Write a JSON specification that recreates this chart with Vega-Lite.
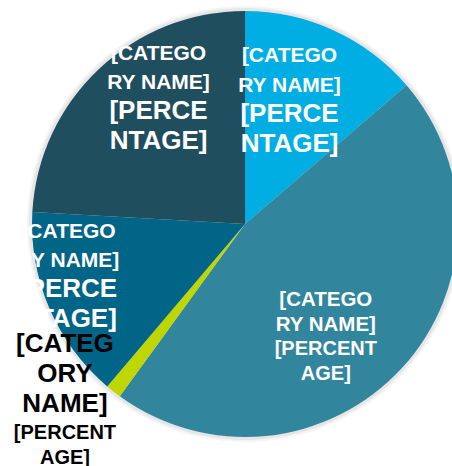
{
  "$schema": "https://vega.github.io/schema/vega-lite/v6.json",
  "width": 414,
  "height": 426,
  "autosize": {"type": "none"},
  "padding": {"left": 38, "top": 11, "right": 0, "bottom": 29},
  "background": "white",
  "config": {"view": {"stroke": null}},
  "data": {
    "values": [
      {"cat": "Category 1", "value": 13.7, "catLabel": "[CATEGO\nRY NAME]", "pctLabel": "[PERCE\nNTAGE]"},
      {"cat": "Category 2", "value": 46.3, "catLabel": "[CATEGO\nRY NAME]", "pctLabel": "[PERCENT\nAGE]"},
      {"cat": "Category 3", "value": 1.2, "catLabel": "[CATEG\nORY\nNAME]", "pctLabel": "[PERCENT\nAGE]"},
      {"cat": "Category 4", "value": 14.7, "catLabel": "[CATEGO\nRY NAME]", "pctLabel": "[PERCE\nNTAGE]"},
      {"cat": "Category 5", "value": 24.1, "catLabel": "[CATEGO\nRY NAME]", "pctLabel": "[PERCE\nNTAGE]"}
    ]
  },
  "layer": [
    {
      "mark": {"type": "arc", "radius": 218, "fill": "#000000", "opacity": 0.04},
      "encoding": {"theta": {"aggregate": "sum", "field": "value", "type": "quantitative"}}
    },
    {
      "mark": {"type": "arc", "radius": 216, "fill": "#000000", "opacity": 0.06},
      "encoding": {"theta": {"aggregate": "sum", "field": "value", "type": "quantitative"}}
    },
    {
      "mark": {"type": "arc", "radius": 213, "stroke": null},
      "encoding": {
        "theta": {"field": "value", "type": "quantitative", "stack": true},
        "order": {"field": "cat", "sort": "ascending"},
        "color": {
          "field": "cat", "type": "nominal", "legend": null,
          "scale": {
            "domain": ["Category 1", "Category 2", "Category 3", "Category 4", "Category 5"],
            "range": ["#00AEE4", "#31859C", "#BFD600", "#006586", "#1F4E5E"]
          }
        }
      }
    },
    {
      "mark": {"type": "text", "radius": 106.7, "dy": -70.75, "fontSize": 21, "lineHeight": 29.5, "font": "Liberation Sans", "fontWeight": "bold", "color": "white", "lineBreak": "\n", "align": "center", "baseline": "middle"},
      "encoding": {
        "theta": {"field": "value", "type": "quantitative", "stack": true},
        "order": {"field": "cat", "sort": "ascending"},
        "detail": {"field": "cat", "type": "nominal"},
        "text": {"condition": {"test": "datum.cat === 'Category 1'", "field": "catLabel"}, "value": ""}
      }
    },
    {
      "mark": {"type": "text", "radius": 106.7, "dy": -12.75, "fontSize": 26, "lineHeight": 29.5, "font": "Liberation Sans", "fontWeight": "bold", "color": "white", "lineBreak": "\n", "align": "center", "baseline": "middle"},
      "encoding": {
        "theta": {"field": "value", "type": "quantitative", "stack": true},
        "order": {"field": "cat", "sort": "ascending"},
        "detail": {"field": "cat", "type": "nominal"},
        "text": {"condition": {"test": "datum.cat === 'Category 1'", "field": "pctLabel"}, "value": ""}
      }
    },
    {
      "mark": {"type": "text", "radius": 109.9, "dy": 1.75, "fontSize": 20.5, "lineHeight": 24.5, "font": "Liberation Sans", "fontWeight": "bold", "color": "white", "lineBreak": "\n", "align": "center", "baseline": "middle"},
      "encoding": {
        "theta": {"field": "value", "type": "quantitative", "stack": true},
        "order": {"field": "cat", "sort": "ascending"},
        "detail": {"field": "cat", "type": "nominal"},
        "text": {"condition": {"test": "datum.cat === 'Category 2'", "field": "catLabel"}, "value": ""}
      }
    },
    {
      "mark": {"type": "text", "radius": 109.9, "dy": 51, "fontSize": 20, "lineHeight": 24.5, "font": "Liberation Sans", "fontWeight": "bold", "color": "white", "lineBreak": "\n", "align": "center", "baseline": "middle"},
      "encoding": {
        "theta": {"field": "value", "type": "quantitative", "stack": true},
        "order": {"field": "cat", "sort": "ascending"},
        "detail": {"field": "cat", "type": "nominal"},
        "text": {"condition": {"test": "datum.cat === 'Category 2'", "field": "pctLabel"}, "value": ""}
      }
    },
    {
      "mark": {"type": "text", "radius": 291.4, "dy": -109, "fontSize": 26, "lineHeight": 30, "font": "Liberation Sans", "fontWeight": "bold", "color": "black", "lineBreak": "\n", "align": "center", "baseline": "middle"},
      "encoding": {
        "theta": {"field": "value", "type": "quantitative", "stack": true},
        "order": {"field": "cat", "sort": "ascending"},
        "detail": {"field": "cat", "type": "nominal"},
        "text": {"condition": {"test": "datum.cat === 'Category 3'", "field": "catLabel"}, "value": ""}
      }
    },
    {
      "mark": {"type": "text", "radius": 291.4, "dy": -20.5, "fontSize": 20, "lineHeight": 25, "font": "Liberation Sans", "fontWeight": "bold", "color": "black", "lineBreak": "\n", "align": "center", "baseline": "middle"},
      "encoding": {
        "theta": {"field": "value", "type": "quantitative", "stack": true},
        "order": {"field": "cat", "sort": "ascending"},
        "detail": {"field": "cat", "type": "nominal"},
        "text": {"condition": {"test": "datum.cat === 'Category 3'", "field": "pctLabel"}, "value": ""}
      }
    },
    {
      "mark": {"type": "text", "radius": 192.6, "dy": -68.35, "fontSize": 21, "lineHeight": 29.5, "font": "Liberation Sans", "fontWeight": "bold", "color": "white", "lineBreak": "\n", "align": "center", "baseline": "middle"},
      "encoding": {
        "theta": {"field": "value", "type": "quantitative", "stack": true},
        "order": {"field": "cat", "sort": "ascending"},
        "detail": {"field": "cat", "type": "nominal"},
        "text": {"condition": {"test": "datum.cat === 'Category 4'", "field": "catLabel"}, "value": ""}
      }
    },
    {
      "mark": {"type": "text", "radius": 192.6, "dy": -11, "fontSize": 26, "lineHeight": 30, "font": "Liberation Sans", "fontWeight": "bold", "color": "white", "lineBreak": "\n", "align": "center", "baseline": "middle"},
      "encoding": {
        "theta": {"field": "value", "type": "quantitative", "stack": true},
        "order": {"field": "cat", "sort": "ascending"},
        "detail": {"field": "cat", "type": "nominal"},
        "text": {"condition": {"test": "datum.cat === 'Category 4'", "field": "pctLabel"}, "value": ""}
      }
    },
    {
      "mark": {"type": "text", "radius": 125.9, "dy": -78.9, "fontSize": 21, "lineHeight": 29, "font": "Liberation Sans", "fontWeight": "bold", "color": "white", "lineBreak": "\n", "align": "center", "baseline": "middle"},
      "encoding": {
        "theta": {"field": "value", "type": "quantitative", "stack": true},
        "order": {"field": "cat", "sort": "ascending"},
        "detail": {"field": "cat", "type": "nominal"},
        "text": {"condition": {"test": "datum.cat === 'Category 5'", "field": "catLabel"}, "value": ""}
      }
    },
    {
      "mark": {"type": "text", "radius": 125.9, "dy": -21, "fontSize": 26, "lineHeight": 30, "font": "Liberation Sans", "fontWeight": "bold", "color": "white", "lineBreak": "\n", "align": "center", "baseline": "middle"},
      "encoding": {
        "theta": {"field": "value", "type": "quantitative", "stack": true},
        "order": {"field": "cat", "sort": "ascending"},
        "detail": {"field": "cat", "type": "nominal"},
        "text": {"condition": {"test": "datum.cat === 'Category 5'", "field": "pctLabel"}, "value": ""}
      }
    }
  ]
}
